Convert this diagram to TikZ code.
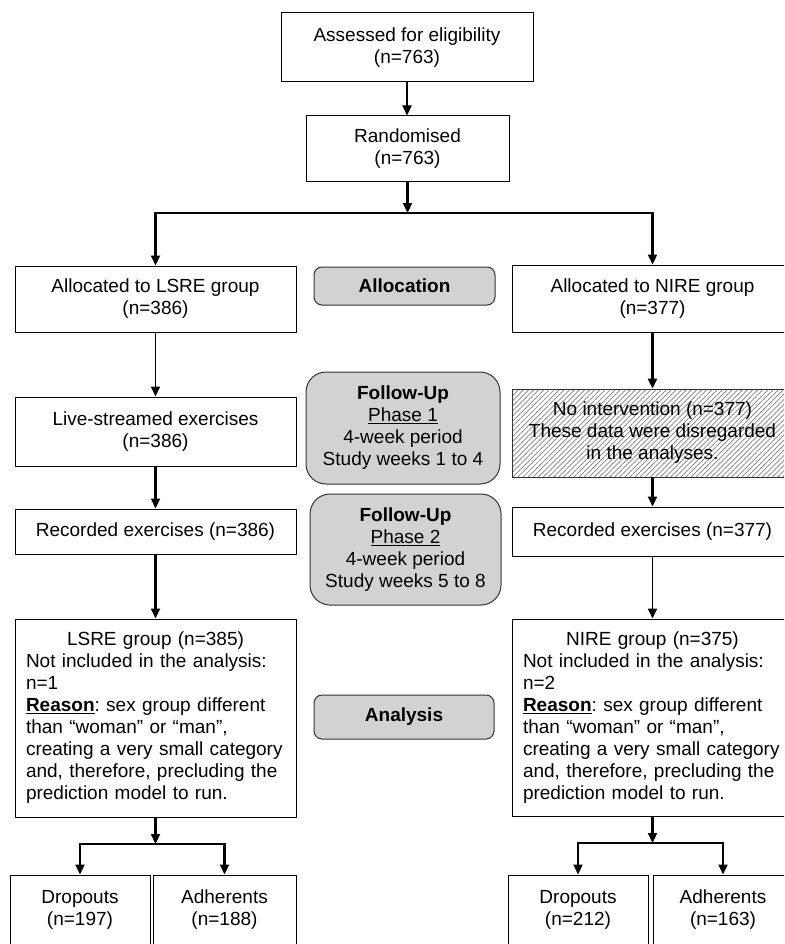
\documentclass[tikz,border=0pt]{standalone}
\usepackage{fontspec}
\setmainfont{Liberation Sans}
\usetikzlibrary{arrows.meta,patterns.meta}
\definecolor{phasegray}{RGB}{210,210,210}
\frenchspacing
\begin{document}
\begin{tikzpicture}[x=1pt,y=-1pt,
  font=\fontsize{19}{22}\selectfont,
  box/.style={draw=black, line width=1pt, inner sep=0pt, align=center, fill=white},
  phasebox/.style={draw=black!80, line width=1pt, fill=phasegray, rounded corners=8pt, inner sep=0pt, align=center},
  fubox/.style={draw=black!80, line width=1pt, fill=phasegray, rounded corners=20pt, inner sep=0pt, align=center},
  hatchbox/.style={draw=black!80, line width=1pt, inner sep=0pt, align=center,
     pattern={Lines[angle=45,distance=3.6pt,line width=0.7pt]}, pattern color=black!50},
  arr/.style={line width=2.2pt, -{Triangle[length=10pt,width=9pt]}},
  arrthin/.style={line width=1.7pt, -{Triangle[length=10pt,width=9pt]}},
  grptext/.style={text width=259pt, align=left}
]
\useasboundingbox (0,0) rectangle (784,944);
\clip (0,0) rectangle (784,944);
\fill[white] (0,0) rectangle (784,944);

% top
\node[box, minimum width=252pt, minimum height=69pt] (assess) at (407,47.5) {Assessed for eligibility\\(n=763)};
\node[box, minimum width=203pt, minimum height=66pt] (rand) at (407.5,149) {Randomised\\(n=763)};

% allocation row
\node[box, minimum width=281pt, minimum height=66pt] (lalloc) at (155.5,299) {Allocated to LSRE group\\(n=386)};
\node[phasebox, minimum width=181pt, minimum height=38pt] (alloc) at (404.5,286) {\textbf{Allocation}};
\node[box, minimum width=281pt, minimum height=67pt] (ralloc) at (652.5,298.5) {Allocated to NIRE group\\(n=377)};

% follow-up phase 1
\node[box, minimum width=281pt, minimum height=69pt] (live) at (155.5,431.5) {Live-streamed exercises\\(n=386)};
\node[fubox, minimum width=194pt, minimum height=112pt] (fu1) at (403,428) {\textbf{Follow-Up}\\\underline{Phase 1}\\4-week period\\Study weeks 1 to 4};
\node[hatchbox, minimum width=281pt, minimum height=88pt] (noint) at (652.5,433) {No intervention (n=377)\\These data were disregarded\\in the analyses.};

% follow-up phase 2
\node[box, minimum width=281pt, minimum height=45pt] (lrec) at (155.5,531.5) {Recorded exercises (n=386)};
\node[fubox, minimum width=191pt, minimum height=111pt] (fu2) at (405.5,549.5) {\textbf{Follow-Up}\\\underline{Phase 2}\\4-week period\\Study weeks 5 to 8};
\node[box, minimum width=281pt, minimum height=49pt] (rrec) at (652.5,531.5) {Recorded exercises (n=377)};

% analysis
\node[box, grptext, minimum width=281pt, minimum height=198pt] (lgrp) at (155.5,718) {\makebox[259pt]{LSRE group (n=385)}\\Not included in the analysis:\\n=1\\\underline{\textbf{Reason}}: sex group different\\than “woman” or “man”,\\creating a very small category\\and, therefore, precluding the\\prediction model to run.};
\node[phasebox, minimum width=180pt, minimum height=44pt] (analysis) at (404,717) {\textbf{Analysis}};
\node[box, grptext, minimum width=281pt, minimum height=197pt] (rgrp) at (652.5,717.5) {\makebox[259pt]{NIRE group (n=375)}\\Not included in the analysis:\\n=2\\\underline{\textbf{Reason}}: sex group different\\than “woman” or “man”,\\creating a very small category\\and, therefore, precluding the\\prediction model to run.};

% outcomes
\node[box, minimum width=140pt, minimum height=70pt] (ldrop) at (80,910) {Dropouts\\(n=197)};
\node[box, minimum width=143pt, minimum height=70pt] (ladh) at (224.5,910) {Adherents\\(n=188)};
\node[box, minimum width=140pt, minimum height=70pt] (rdrop) at (578,910) {Dropouts\\(n=212)};
\node[box, minimum width=140pt, minimum height=70pt] (radh) at (723,910) {Adherents\\(n=163)};

% connectors
\draw[arr] (assess.south) -- (assess.south |- rand.north);
\coordinate (sp1) at (407.5,213);
\draw[arr] (rand.south) -- (sp1);
\draw[arr] (sp1) -| (lalloc.north);
\draw[arr] (sp1) -| (ralloc.north);

\draw[arrthin] (lalloc.south) -- (live.north);
\draw[arr] (live.south) -- (lrec.north);
\draw[arr] (lrec.south) -- (lgrp.north);

\draw[arr] (ralloc.south) -- (noint.north);
\draw[arr] (noint.south) -- (rrec.north);
\draw[arrthin] (rrec.south) -- (rgrp.north);

\coordinate (sp2) at (155.5,844);
\draw[arr] (lgrp.south) -- (sp2);
\draw[arr] (sp2) -| (ldrop.north);
\draw[arr] (sp2) -| (ladh.north);

\coordinate (sp3) at (652.5,843);
\draw[arr] (rgrp.south) -- (sp3);
\draw[arr] (sp3) -| (rdrop.north);
\draw[arr] (sp3) -| (radh.north);
\end{tikzpicture}
\end{document}
